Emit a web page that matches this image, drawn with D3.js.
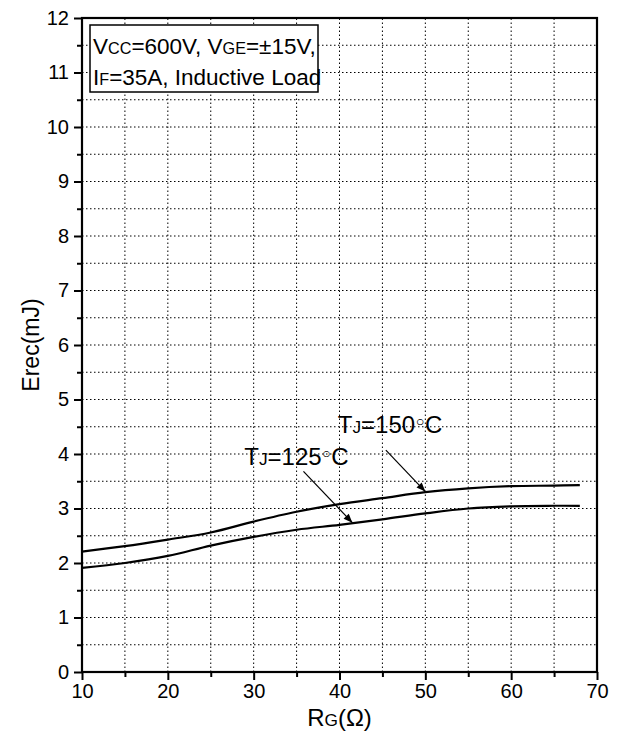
<!DOCTYPE html>
<html><head><meta charset="utf-8">
<script src="https://cdn.jsdelivr.net/npm/d3@7"></script>
<style>body{margin:0;background:#fff}svg{display:block}</style>
</head><body>
<svg id="c" width="618" height="738"></svg>
<script>
// ---- data ----
const rg = [10, 15, 20, 25, 30, 35, 40, 45, 50, 55, 60, 65, 68];
const erec150 = [2.21, 2.31, 2.43, 2.56, 2.76, 2.94, 3.08, 3.19, 3.30, 3.37, 3.41, 3.42, 3.43];
const erec125 = [1.91, 2.00, 2.13, 2.32, 2.48, 2.61, 2.70, 2.80, 2.91, 3.00, 3.04, 3.05, 3.05];
const xTicks = [10, 20, 30, 40, 50, 60, 70];
const yTicks = [0, 1, 2, 3, 4, 5, 6, 7, 8, 9, 10, 11, 12];
const seriesTemps = ["150", "125"];
// annotation anchors in data units: label start, arrow tail, arrow tip
const annLabel = [[39.8, 4.38], [28.9, 3.80]];
const annTail = [[45.4, 4.07], [35.8, 3.68]];
const annTip = [[50.0, 3.31], [41.5, 2.74]];

// ---- layout ----
const W = 618, H = 738;
const m = {l: 82, r: 21, t: 18, b: 66};
const svg = d3.select("#c");
const font = "'Liberation Sans', Arial, sans-serif";
const x = d3.scaleLinear().domain([10, 70]).range([m.l, W - m.r]);
const y = d3.scaleLinear().domain([0, 12]).range([H - m.b, m.t]);

// grid (dotted) at minor steps
const xGrid = d3.range(15, 70, 5);
const yGrid = d3.range(0.5, 12, 0.5);
const g = svg.append("g");
g.selectAll("line.gx").data(xGrid).join("line")
  .attr("x1", d => x(d)).attr("x2", d => x(d))
  .attr("y1", y(0)).attr("y2", y(12))
  .attr("stroke", "#000").attr("stroke-width", 1).attr("stroke-dasharray", "1.5,2.5");
g.selectAll("line.gy").data(yGrid).join("line")
  .attr("y1", d => y(d)).attr("y2", d => y(d))
  .attr("x1", x(10)).attr("x2", x(70))
  .attr("stroke", "#000").attr("stroke-width", 1).attr("stroke-dasharray", "1.5,2.5");

// axes
const xAxis = d3.axisBottom(x).tickValues(xTicks).tickSize(8).tickPadding(4).tickFormat(d3.format("d"));
const yAxis = d3.axisLeft(y).tickValues(yTicks).tickSize(8).tickPadding(5).tickFormat(d3.format("d"));
const xMinor = d3.axisBottom(x).tickValues(d3.range(15, 70, 10)).tickSize(5).tickFormat("");
const yMinor = d3.axisLeft(y).tickValues(d3.range(0.5, 12, 1)).tickSize(5).tickFormat("");

function styleAxis(s) {
  s.select(".domain").remove();
  s.selectAll("line").attr("stroke", "#000").attr("stroke-width", 2);
  s.selectAll("text").attr("fill", "#000").style("font-family", font).style("font-size", "20px");
}
svg.append("g").attr("transform", `translate(0,${y(0)})`).call(xAxis).call(styleAxis);
svg.append("g").attr("transform", `translate(0,${y(0)})`).call(xMinor).call(styleAxis);
svg.append("g").attr("transform", `translate(${x(10)},0)`).call(yAxis).call(styleAxis);
svg.append("g").attr("transform", `translate(${x(10)},0)`).call(yMinor).call(styleAxis);

// frame
svg.append("rect").attr("x", x(10)).attr("y", y(12))
  .attr("width", x(70) - x(10)).attr("height", y(0) - y(12))
  .attr("fill", "none").attr("stroke", "#000").attr("stroke-width", 2.2);

// curves
const line = d3.line().x(d => x(d[0])).y(d => y(d[1])).curve(d3.curveCatmullRom.alpha(0.5));
[erec150, erec125].forEach(s => {
  svg.append("path").datum(rg.map((r, i) => [r, s[i]]))
    .attr("d", line).attr("fill", "none").attr("stroke", "#000").attr("stroke-width", 2.2);
});

// rich text helper
function rich(sel, parts, size) {
  parts.forEach(([t, kind]) => {
    const ts = sel.append("tspan").text(t);
    if (kind === "s") ts.style("font-size", (size * 0.72) + "px");
    if (kind === "d") ts.style("font-size", (size * 0.9) + "px").style("font-family", "'DejaVu Sans', sans-serif")
      .attr("dy", -size * 0.12).attr("dx", -1.5);
    if (kind === "c") ts.attr("dy", size * 0.12).attr("dx", -1.5);
  });
}

// annotations
const defs = svg.append("defs");
defs.append("marker").attr("id", "ah").attr("viewBox", "0 0 10 10")
  .attr("refX", 10).attr("refY", 5).attr("markerWidth", 14).attr("markerHeight", 9)
  .attr("markerUnits", "userSpaceOnUse").attr("orient", "auto")
  .append("path").attr("d", "M0,1 L10,5 L0,9 Z").attr("fill", "#000");

seriesTemps.forEach((tmp, i) => {
  svg.append("line")
    .attr("x1", x(annTail[i][0])).attr("y1", y(annTail[i][1]))
    .attr("x2", x(annTip[i][0])).attr("y2", y(annTip[i][1]))
    .attr("stroke", "#000").attr("stroke-width", 1.2).attr("marker-end", "url(#ah)");
  const t = svg.append("text").attr("x", x(annLabel[i][0])).attr("y", y(annLabel[i][1]))
    .style("font-family", font).style("font-size", "24px").attr("fill", "#000");
  rich(t, [["T"], ["J", "s"], ["=" + tmp], ["\u25E6", "d"], ["C", "c"]], 24);
});

// condition box
const bx = 90, by = 25, bw = 228, bh = 67;
svg.append("rect").attr("x", bx).attr("y", by).attr("width", bw).attr("height", bh)
  .attr("fill", "#fff").attr("stroke", "#000").attr("stroke-width", 1.5);
const t1 = svg.append("text").attr("x", bx + 3).attr("y", by + 29)
  .style("font-family", font).style("font-size", "22.5px");
rich(t1, [["V"], ["CC", "s"], ["=600V, V"], ["GE", "s"], ["=\u00B115V,"]], 22.5);
const t2 = svg.append("text").attr("x", bx + 3).attr("y", by + 60)
  .style("font-family", font).style("font-size", "22.5px");
rich(t2, [["I"], ["F", "s"], ["=35A, Inductive Load"]], 22.5);

// axis titles
const xt = svg.append("text").attr("x", (x(10) + x(70)) / 2).attr("y", 726)
  .attr("text-anchor", "middle").style("font-family", font).style("font-size", "24px");
rich(xt, [["R"], ["G", "s"], ["(\u03A9)"]], 24);
svg.append("text").attr("transform", `translate(39,${(y(0) + y(12)) / 2}) rotate(-90)`)
  .attr("text-anchor", "middle").style("font-family", font).style("font-size", "23px").text("Erec(mJ)");
</script>
</body></html>
